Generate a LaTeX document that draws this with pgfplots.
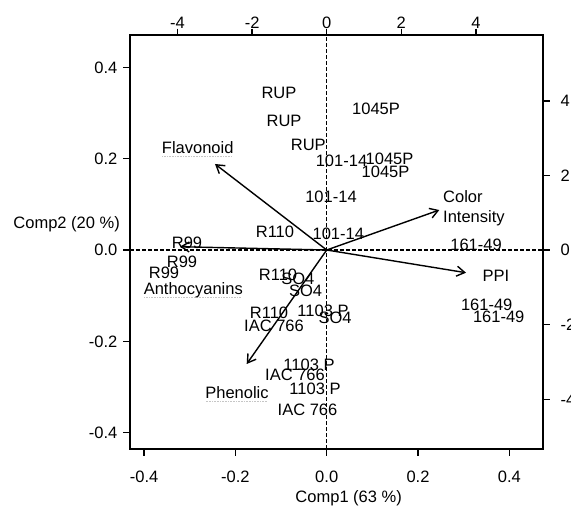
\documentclass[border=0pt]{standalone}
\usepackage{fontspec}
\setmainfont{Liberation Sans}
\usepackage{pgfplots}
\usepackage{pgfplotstable}
\pgfplotsset{compat=1.18}
\usetikzlibrary{arrows.meta}

% gray dotted underline (as in the reference)
\newcommand\dotul[1]{\setbox0\hbox{#1}\rlap{\color{gray!45}\raisebox{-3.5pt}{\leaders\hbox to 1.6pt{\hss\vrule width 0.9pt height 0.9pt\hss}\hskip\wd0}}\box0}

% scores, bottom/left axes
\pgfplotstableread{
x y lab
-0.1045 0.3446 RUP
-0.0935 0.2832 RUP
-0.0403 0.2300 RUP
0.1080 0.3104 1045P
0.0324 0.1956 101-14
0.1376 0.1993 1045P
0.1288 0.1724 1045P
0.0094 0.1168 101-14
0.0254 0.0366 101-14
-0.1133 0.0401 R110
0.3271 0.0110 161-49
0.3505 -0.1190 161-49
0.3768 -0.1461 161-49
-0.3060 0.0169 R99
-0.3170 -0.0256 R99
-0.3564 -0.0497 R99
-0.1067 -0.0532 R110
-0.0633 -0.0635 SO4
-0.0464 -0.0898 SO4
-0.1264 -0.1373 R110
-0.0081 -0.1330 {1103 P}
0.0182 -0.1474 SO4
-0.1154 -0.1665 {IAC 766}
-0.0388 -0.2519 {1103 P}
-0.0694 -0.2738 {IAC 766}
-0.0256 -0.3045 {1103 P}
-0.0421 -0.3490 {IAC 766}
}\scores

\begin{document}
\fontsize{16.5}{19.5}\selectfont
\begin{tikzpicture}
\pgfplotsset{
  bp/.style={scale only axis, width=413pt, height=414pt, at={(0,0)}, anchor=south west,
    tick align=outside, major tick length=6.5pt,
    every tick/.style={black, line width=1.4pt},
    axis line style={black, line width=1.6pt},
    tick label style={inner sep=0pt, text height=11.8pt, text depth=0pt},
    clip=false},
  lbl/.style={draw=none, nodes near coords, point meta=explicit symbolic,
    nodes near coords style={anchor=center, inner sep=0pt, text height=11.8pt, text depth=0pt}},
  vec/.style={black, line width=1.4pt, -{Straight Barb[length=8pt, width=10pt, line width=1.4pt]}},
  zl/.style={black, line width=1.3pt, dash pattern=on 4pt off 2pt},
}
\begin{axis}[bp,
  xmin=-0.4309, xmax=0.4738, ymin=-0.4359, ymax=0.4710,
  xtick={-0.4,-0.2,0,0.2,0.4}, xticklabels={-0.4,-0.2,0.0,0.2,0.4},
  ytick={-0.4,-0.2,0,0.2,0.4}, yticklabels={-0.4,-0.2,0.0,0.2,0.4},
  xtick pos=bottom, ytick pos=left,
  xticklabel style={yshift=-15pt},
  yticklabel style={xshift=-6pt},
  xlabel={Comp1 (63 \%)}, ylabel={Comp2 (20 \%)},
  xlabel style={at={(axis description cs:0.5295,-0.129)}, anchor=base, inner sep=0pt},
  ylabel style={rotate=-90, at={(axis description cs:-0.0242,0.532)}, anchor=base east, inner sep=0pt},
]
\addplot[zl] coordinates {(0,-0.4359) (0,0.4710)};
\addplot[zl] coordinates {(-0.4309,0) (0.4738,0)};
\addplot[lbl] table[x=x, y=y, meta=lab] {\scores};
\end{axis}
\begin{axis}[bp,
  xmin=-5.2735, xmax=5.799, ymin=-5.335, ymax=5.764,
  xtick={-4,-2,0,2,4}, xticklabels={-4,-2,0,2,4},
  ytick={-4,-2,0,2,4}, yticklabels={-4,-2,0,2,4},
  xtick pos=right, ytick pos=right,
  xticklabel pos=right, yticklabel pos=right,
  yticklabel style={anchor=west, xshift=11pt},
]
\addplot[vec] coordinates {(0,0) (-2.995,2.306)};
\addplot[vec] coordinates {(0,0) (3.019,1.072)};
\addplot[vec] coordinates {(0,0) (3.735,-0.609)};
\addplot[vec] coordinates {(0,0) (-3.933,0.088)};
\addplot[vec] coordinates {(0,0) (-2.145,-3.056)};
\addplot[draw=none, nodes near coords={\dotul{Flavonoid}},
  nodes near coords style={anchor=center, inner sep=0pt, text height=11.8pt, text depth=0pt}]
  coordinates {(-3.458,2.743)};
\addplot[draw=none, nodes near coords={\dotul{Anthocyanins}},
  nodes near coords style={anchor=center, inner sep=0pt, text height=11.8pt, text depth=0pt}]
  coordinates {(-3.576,-1.027)};
\addplot[draw=none, nodes near coords={\dotul{Phenolic}},
  nodes near coords style={anchor=center, inner sep=0pt, text height=11.8pt, text depth=0pt}]
  coordinates {(-2.405,-3.815)};
\addplot[draw=none, nodes near coords={PPI},
  nodes near coords style={anchor=center, inner sep=0pt, text height=11.8pt, text depth=0pt}]
  coordinates {(4.539,-0.697)};
\addplot[draw=none, nodes near coords={Color\\Intensity},
  nodes near coords style={anchor=west, inner sep=0pt, align=left, font=\fontsize{16.5}{20}\selectfont}]
  coordinates {(3.118,1.115)};
\end{axis}
\pgfresetboundingbox
\useasboundingbox (-130pt,-63pt) rectangle (441pt,449pt);
\end{tikzpicture}
\end{document}
